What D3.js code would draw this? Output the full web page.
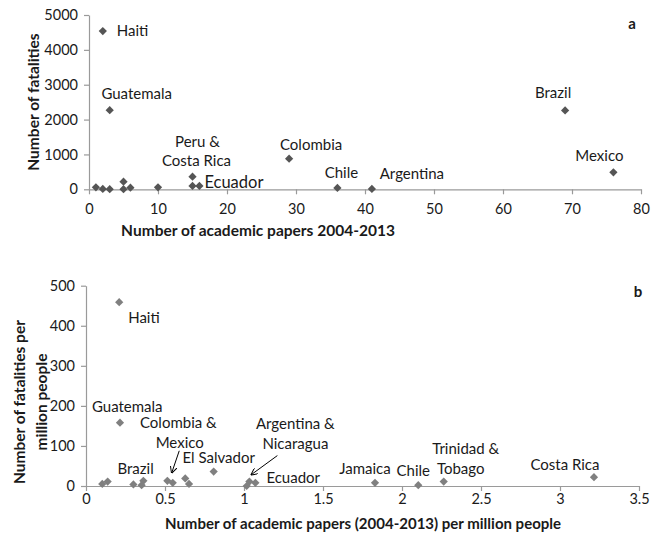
<!DOCTYPE html>
<html>
<head>
<meta charset="utf-8">
<script src="https://cdn.jsdelivr.net/npm/d3@7"></script>
<style>
  body { margin: 0; background: #fff; }
  svg { display: block; font-family: Lato, "Open Sans", sans-serif; }
</style>
</head>
<body>
<svg id="chart" width="659" height="533"></svg>
<script>
// Panel a: number of academic papers 2004-2013 vs number of fatalities
const papersA     = [2, 3, 1, 2, 3, 5, 5, 6, 10, 15, 15, 16, 29, 36, 41, 69, 76];
const fatalitiesA = [4540, 2270, 57, 9, 5, 218, 5, 46, 57, 361, 95, 95, 877, 40, 10, 2263, 487];
const ticksXA = [0, 10, 20, 30, 40, 50, 60, 70, 80];
const ticksYA = [0, 1000, 2000, 3000, 4000, 5000];
const labelsA = [
  { text: "Haiti", x: 2, y: 4540, dx: 14, dy: 0, anchor: "start" },
  { text: "Guatemala", x: 3, y: 2270, dx: 27, dy: -16, anchor: "middle" },
  { text: "Peru &", x: 15, y: 361, dx: 5, dy: -35, anchor: "middle" },
  { text: "Costa Rica", x: 15, y: 361, dx: 4, dy: -16, anchor: "middle" },
  { text: "Ecuador", x: 16, y: 95, dx: 5, dy: -4, anchor: "start", big: true },
  { text: "Colombia", x: 29, y: 877, dx: 22, dy: -14, anchor: "middle" },
  { text: "Chile", x: 36, y: 40, dx: 4, dy: -15, anchor: "middle" },
  { text: "Argentina", x: 41, y: 10, dx: 40, dy: -15, anchor: "middle" },
  { text: "Brazil", x: 69, y: 2263, dx: -12, dy: -18, anchor: "middle" },
  { text: "Mexico", x: 76, y: 487, dx: -14, dy: -17, anchor: "middle" }
];

// Panel b: papers per million people vs fatalities per million people
const papersB     = [0.21, 0.215, 0.103, 0.137, 0.30, 0.352, 0.363, 0.515, 0.549, 0.628, 0.652, 0.808, 1.017, 1.034, 1.072, 1.829, 2.103, 2.264, 3.215];
const fatalitiesB = [459, 158, 5, 11, 4, 2, 13, 13, 8, 19, 5, 36, 0, 11, 8, 8, 2, 11, 22];
const ticksXB = [0, 0.5, 1, 1.5, 2, 2.5, 3, 3.5];
const ticksYB = [0, 100, 200, 300, 400, 500];
const labelsB = [
  { text: "Haiti", x: 0.21, y: 459, dx: 9, dy: 16, anchor: "start" },
  { text: "Guatemala", x: 0.215, y: 158, dx: -28, dy: -16, anchor: "start" },
  { text: "Colombia &", x: 0.215, y: 158, dx: 20, dy: 0, anchor: "start" },
  { text: "Mexico", x: 0.549, y: 8, dx: 7, dy: -40, anchor: "middle" },
  { text: "El Salvador", x: 0.808, y: 36, dx: 5, dy: -14, anchor: "middle" },
  { text: "Brazil", x: 0.352, y: 2, dx: -6, dy: -16, anchor: "middle" },
  { text: "Argentina &", x: 1.034, y: 11, dx: 46, dy: -58, anchor: "middle" },
  { text: "Nicaragua", x: 1.034, y: 11, dx: 46, dy: -38, anchor: "middle" },
  { text: "Ecuador", x: 1.072, y: 8, dx: 11, dy: -5, anchor: "start" },
  { text: "Jamaica", x: 1.829, y: 8, dx: -10, dy: -14, anchor: "middle" },
  { text: "Chile", x: 2.103, y: 2, dx: -5, dy: -14, anchor: "middle" },
  { text: "Trinidad &", x: 2.264, y: 11, dx: 22, dy: -33, anchor: "middle" },
  { text: "Tobago", x: 2.264, y: 11, dx: 17, dy: -13, anchor: "middle" },
  { text: "Costa Rica", x: 3.215, y: 22, dx: -29, dy: -12, anchor: "middle" }
];
// Callout arrows from a label down to its point (pixel offsets from the point)
const arrowsB = [
  { x: 0.549, y: 8, fromDx: 6.5, fromDy: -32, toDx: -1, toDy: -10 },
  { x: 1.034, y: 11, fromDx: 28, fromDy: -26, toDx: 2, toDy: -7 }
];

const svg = d3.select("#chart");
const axisColor = "#9a9a9a";
const textColor = "#1a1a1a";

svg.append("defs").append("marker")
  .attr("id", "arrowhead")
  .attr("viewBox", "0 0 10 10")
  .attr("refX", 9).attr("refY", 5)
  .attr("markerWidth", 7).attr("markerHeight", 7)
  .attr("orient", "auto")
  .append("path")
  .attr("d", "M0,0 L10,5 L0,10")
  .attr("fill", "none")
  .attr("stroke", "#000")
  .attr("stroke-width", 1.4);

const diamond = d3.symbol().type(d3.symbolSquare).size(34);

function drawPanel(cfg) {
  const x = d3.scaleLinear().domain(cfg.xDomain).range([cfg.left, cfg.right]);
  const y = d3.scaleLinear().domain(cfg.yDomain).range([cfg.bottom, cfg.top]);
  const g = svg.append("g");

  const xAxis = g.append("g")
    .attr("transform", `translate(0,${cfg.bottom})`)
    .call(d3.axisBottom(x).tickValues(cfg.ticksX).tickSize(5).tickSizeOuter(0)
      .tickFormat(d3.format("")));
  const yAxis = g.append("g")
    .attr("transform", `translate(${cfg.left},0)`)
    .call(d3.axisLeft(y).tickValues(cfg.ticksY).tickSize(5).tickSizeOuter(0)
      .tickFormat(d3.format("")));
  [xAxis, yAxis].forEach(a => {
    a.select(".domain").attr("stroke", axisColor).attr("stroke-width", 1.2);
    a.selectAll(".tick line").attr("stroke", axisColor).attr("stroke-width", 1.2);
    a.selectAll(".tick text").attr("fill", textColor)
      .style("font-size", "14.5px").style("font-family", "Lato, sans-serif");
  });
  xAxis.selectAll(".tick text").attr("dy", "0.71em").attr("y", cfg.xTickGap);
  yAxis.selectAll(".tick text").attr("x", -11);

  // markers
  g.append("g").selectAll("path")
    .data(cfg.xs.map((v, i) => [v, cfg.ys[i]]))
    .join("path")
    .attr("d", diamond)
    .attr("transform", d => `translate(${x(d[0])},${y(d[1])}) rotate(45)`)
    .attr("fill", cfg.color);

  // point labels
  g.append("g").selectAll("text")
    .data(cfg.labels)
    .join("text")
    .attr("x", d => x(d.x) + d.dx)
    .attr("y", d => y(d.y) + d.dy)
    .attr("dy", "0.35em")
    .attr("text-anchor", d => d.anchor)
    .attr("fill", textColor)
    .style("font-size", d => d.big ? "16.5px" : "15px")
    .text(d => d.text);

  // callout arrows
  if (cfg.arrows) {
    g.append("g").selectAll("line")
      .data(cfg.arrows)
      .join("line")
      .attr("x1", d => x(d.x) + d.fromDx)
      .attr("y1", d => y(d.y) + d.fromDy)
      .attr("x2", d => x(d.x) + d.toDx)
      .attr("y2", d => y(d.y) + d.toDy)
      .attr("stroke", "#000")
      .attr("stroke-width", 1)
      .attr("marker-end", "url(#arrowhead)");
  }

  // axis titles
  g.append("text")
    .attr("x", cfg.xTitleX).attr("y", cfg.xTitleY)
    .attr("text-anchor", "middle")
    .attr("fill", textColor)
    .style("font-size", cfg.xTitleSize).style("font-weight", "bold")
    .text(cfg.xTitle);

  const yt = g.append("text")
    .attr("transform", `translate(${cfg.yTitleX},${cfg.yTitleY}) rotate(-90)`)
    .attr("text-anchor", "middle")
    .attr("fill", textColor)
    .style("font-size", "15.5px").style("font-weight", "bold");
  cfg.yTitle.forEach((line, i) => {
    yt.append("tspan").attr("x", 0).attr("dy", i === 0 ? 0 : "1.4em").text(line);
  });

  // panel letter
  g.append("text")
    .attr("x", cfg.letterX).attr("y", cfg.letterY)
    .attr("text-anchor", "middle")
    .attr("fill", textColor)
    .style("font-size", "15px").style("font-weight", "bold")
    .text(cfg.letter);
}

drawPanel({
  xs: papersA, ys: fatalitiesA, labels: labelsA,
  xDomain: [0, 80], yDomain: [0, 5000],
  ticksX: ticksXA, ticksY: ticksYA, xTickGap: 14,
  left: 89, right: 641, top: 15, bottom: 189.3,
  color: "#555555",
  xTitle: "Number of academic papers 2004-2013", xTitleX: 258, xTitleY: 236, xTitleSize: "15.5px",
  yTitle: ["Number of fatalities"], yTitleX: 39, yTitleY: 102,
  letter: "a", letterX: 632, letterY: 29
});

drawPanel({
  xs: papersB, ys: fatalitiesB, labels: labelsB, arrows: arrowsB,
  xDomain: [0, 3.5], yDomain: [0, 500],
  ticksX: ticksXB, ticksY: ticksYB, xTickGap: 8,
  left: 86, right: 639, top: 285.7, bottom: 486,
  color: "#808080",
  xTitle: "Number of academic papers (2004-2013) per million people", xTitleX: 363, xTitleY: 529, xTitleSize: "15px",
  yTitle: ["Number of fatalities per", "million people"], yTitleX: 25, yTitleY: 402,
  letter: "b", letterX: 638, letterY: 297
});
</script>
</body>
</html>
